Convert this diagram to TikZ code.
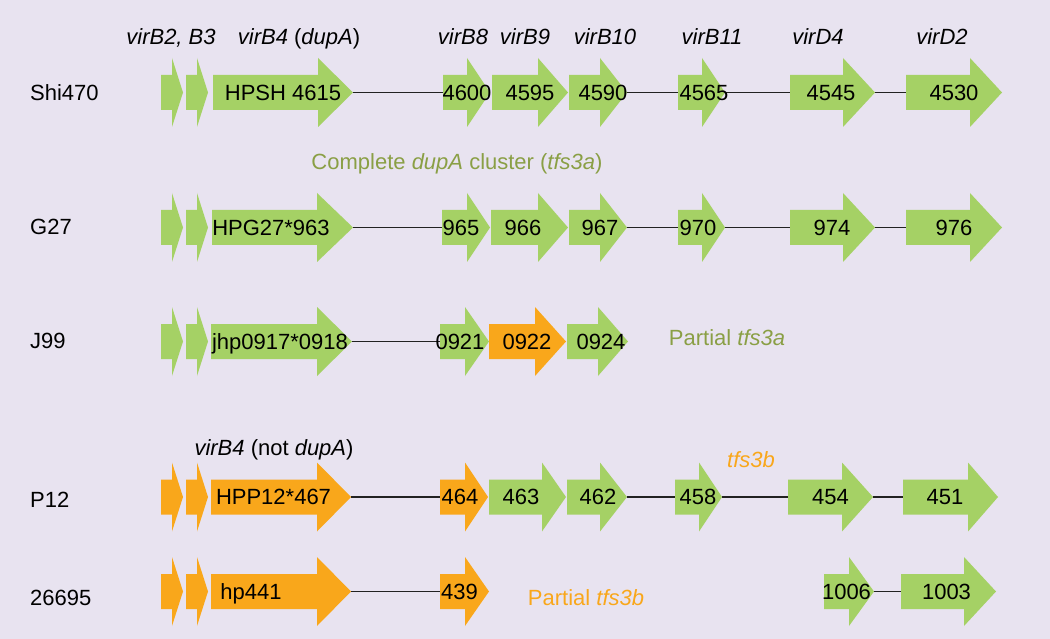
\documentclass[tikz,border=0pt]{standalone}
\usepackage{fontspec}
\setmainfont{Liberation Sans}
\definecolor{bg}{HTML}{E8E3F0}
\definecolor{gr}{HTML}{A5D165}
\definecolor{og}{HTML}{F9A71B}
\definecolor{ol}{HTML}{8A9F45}
\definecolor{ln}{HTML}{222222}
% name, body start, head start, tip, centre y, colour
\newcommand\genearrow[6]{%
  \fill[#6] (#2,#5-17.5) -- (#3,#5-17.5) -- (#3,#5-34.5) -- (#4,#5)
    -- (#3,#5+34.5) -- (#3,#5+17.5) -- (#2,#5+17.5) -- cycle;
  \coordinate (#1-l) at (#2,#5);
  \coordinate (#1-r) at (#4,#5);}
\tikzset{
  lab/.style={font=\fontsize{22}{26}\selectfont, inner sep=0pt, text height=15.8pt, text depth=0pt},
  hdr/.style={lab, font=\fontsize{22}{26}\selectfont\itshape},
  rowlab/.style={lab, anchor=west},
  conn/.style={draw=ln, line width=1.3pt},
}
\begin{document}
\begin{tikzpicture}[x=1pt,y=-1pt]
\fill[bg] (0,0) rectangle (1050,639);
\useasboundingbox (0,0) rectangle (1050,639);

% headers
\node[hdr] (h1) at (171,37) {virB2, B3};
\node[lab] (h2) at (299,37) {\textit{virB4} (\textit{dupA})};
\node[hdr] (h3) at (463,37) {virB8};
\node[hdr] (h4) at (525,37) {virB9};
\node[hdr] (h5) at (605,37) {virB10};
\node[hdr] (h6) at (712,37) {virB11};
\node[hdr] (h7) at (818,37) {virD4};
\node[hdr] (h8) at (942,37) {virD2};

% row labels
\node[rowlab] (r1) at (30,93) {Shi470};
\node[rowlab] (r2) at (30,227) {G27};
\node[rowlab] (r3) at (30,341) {J99};
\node[rowlab] (r4) at (30,500) {P12};
\node[rowlab] (r5) at (30,598) {26695};

% row 1
\genearrow{a1}{161}{172}{183}{92.5}{gr}
\genearrow{a2}{186}{197}{208}{92.5}{gr}
\genearrow{a3}{213}{318}{353}{92.5}{gr}
\genearrow{a4}{443}{467}{490}{92.5}{gr}
\genearrow{a5}{492}{538}{568}{92.5}{gr}
\genearrow{a6}{569}{600}{627}{92.5}{gr}
\genearrow{a7}{678}{702}{725}{92.5}{gr}
\genearrow{a8}{790}{843}{875}{92.5}{gr}
\genearrow{a9}{906}{970}{1002}{92.5}{gr}
\draw[conn] (a3-r) -- (a4-l);
\draw[conn] (a6-r) -- (a7-l);
\draw[conn] (a7-r) -- (a8-l);
\draw[conn] (a8-r) -- (a9-l);
\node[lab] (ta3) at (283,92.5) {HPSH 4615};
\node[lab] (ta4) at (467,92.5) {4600};
\node[lab] (ta5) at (530,92.5) {4595};
\node[lab] (ta6) at (603,92.5) {4590};
\node[lab] (ta7) at (704,92.5) {4565};
\node[lab] (ta8) at (831,92.5) {4545};
\node[lab] (ta9) at (954,92.5) {4530};

\node[lab, text=ol] (cpl) at (457,162) {Complete \textit{dupA} cluster (\textit{tfs3a})};

% row 2
\genearrow{b1}{161}{172}{183}{227.5}{gr}
\genearrow{b2}{186}{197}{208}{227.5}{gr}
\genearrow{b3}{212}{317}{353}{227.5}{gr}
\genearrow{b4}{442}{467}{490}{227.5}{gr}
\genearrow{b5}{491}{538}{568}{227.5}{gr}
\genearrow{b6}{569}{600}{627}{227.5}{gr}
\genearrow{b7}{678}{702}{725}{227.5}{gr}
\genearrow{b8}{790}{843}{875}{227.5}{gr}
\genearrow{b9}{906}{970}{1002}{227.5}{gr}
\draw[conn] (b3-r) -- (b4-l);
\draw[conn] (b6-r) -- (b7-l);
\draw[conn] (b7-r) -- (b8-l);
\draw[conn] (b8-r) -- (b9-l);
\node[lab] (tb3) at (271,227.5) {HPG27*963};
\node[lab] (tb4) at (461,227.5) {965};
\node[lab] (tb5) at (523,227.5) {966};
\node[lab] (tb6) at (600,227.5) {967};
\node[lab] (tb7) at (698,227.5) {970};
\node[lab] (tb8) at (832,227.5) {974};
\node[lab] (tb9) at (954,227.5) {976};

% row 3
\genearrow{c1}{161}{172}{183}{341.5}{gr}
\genearrow{c2}{186}{197}{208}{341.5}{gr}
\genearrow{c3}{211}{317}{352}{341.5}{gr}
\genearrow{c4}{440}{465}{489}{341.5}{gr}
\genearrow{c5}{489}{535}{566}{341.5}{og}
\genearrow{c6}{567}{598}{628}{341.5}{gr}
\draw[conn] (c3-r) -- (c4-l);
\node[lab] (tc3) at (280,341.5) {jhp0917*0918};
\node[lab] (tc4) at (460,341.5) {0921};
\node[lab] (tc5) at (527,341.5) {0922};
\node[lab] (tc6) at (601,341.5) {0924};
\node[lab, text=ol] (pa) at (727,338) {Partial \textit{tfs3a}};

% row 4
\node[lab] (h9) at (274,448) {\textit{virB4} (not \textit{dupA})};
\node[hdr, text=og] (tfsb) at (751,460) {tfs3b};
\genearrow{d1}{161}{172}{183}{497}{og}
\genearrow{d2}{186}{197}{208}{497}{og}
\genearrow{d3}{211}{317}{351}{497}{og}
\genearrow{d4}{440}{465}{488}{497}{og}
\genearrow{d5}{489}{542}{566}{497}{gr}
\genearrow{d6}{567}{600}{627}{497}{gr}
\genearrow{d7}{675}{699}{722}{497}{gr}
\genearrow{d8}{788}{842}{873}{497}{gr}
\genearrow{d9}{903}{968}{998}{497}{gr}
\draw[conn] (d3-r) -- (d4-l);
\draw[conn] (d6-r) -- (d7-l);
\draw[conn] (d7-r) -- (d8-l);
\draw[conn] (d8-r) -- (d9-l);
\node[lab] (td3) at (273.5,497) {HPP12*467};
\node[lab] (td4) at (460,497) {464};
\node[lab] (td5) at (521,497) {463};
\node[lab] (td6) at (598,497) {462};
\node[lab] (td7) at (698,497) {458};
\node[lab] (td8) at (830.5,497) {454};
\node[lab] (td9) at (945,497) {451};

% row 5
\genearrow{e1}{161}{172}{183}{591.5}{og}
\genearrow{e2}{186}{197}{208}{591.5}{og}
\genearrow{e3}{211}{317}{351}{591.5}{og}
\genearrow{e4}{440}{465}{489}{591.5}{og}
\genearrow{e5}{824}{849}{874}{591.5}{gr}
\genearrow{e6}{901}{964}{996}{591.5}{gr}
\draw[conn] (e3-r) -- (e4-l);
\draw[conn] (e5-r) -- (e6-l);
\node[lab] (te3) at (251,591.5) {hp441};
\node[lab] (te4) at (459.5,591.5) {439};
\node[lab] (te5) at (846.5,591.5) {1006};
\node[lab] (te6) at (946.5,591.5) {1003};
\node[lab, text=og] (pb) at (586,598) {Partial \textit{tfs3b}};
\end{tikzpicture}
\end{document}
